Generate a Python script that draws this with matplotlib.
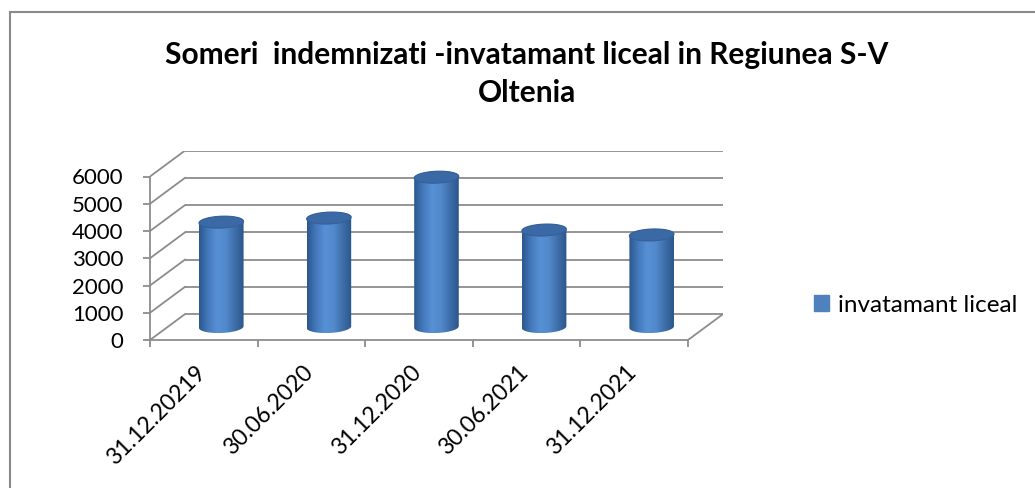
import matplotlib.pyplot as plt
import numpy as np
from matplotlib.patches import Patch, Polygon, Rectangle
from matplotlib.colors import LinearSegmentedColormap

plt.rcParams['font.family'] = ['Lato', 'DejaVu Sans']

# data
title = 'Someri  indemnizati -invatamant liceal in Regiunea S-V\nOltenia'
categories = ['31.12.20219', '30.06.2020', '31.12.2020', '30.06.2021', '31.12.2021']
values = [3850, 4000, 5500, 3560, 3380]
series_name = 'invatamant liceal'
y_ticks = [0, 1000, 2000, 3000, 4000, 5000, 6000]

W, H = 1035, 488
fig = plt.figure(figsize=(W / 100, H / 100), dpi=100)

# fake 3d box: depth offset in data units
n = len(categories)
dep_x = 0.325
dep_y = 950
ymax = y_ticks[-1]
cat_px = 107.6
val_px = 0.02725

ax = fig.add_axes([150 / W, (H - 340) / H, (n + dep_x) * cat_px / W,
                   (ymax + dep_y) * val_px / H])
ax.patch.set_alpha(0)

gc = '#8c8c8c'
for v in y_ticks:
    ax.plot([dep_x, n + dep_x], [v + dep_y] * 2, color=gc, lw=1.3, zorder=1,
            solid_capstyle='butt')
    ax.plot([0, dep_x], [v, v + dep_y], color=gc, lw=1.3, zorder=1)
ax.plot([n, n + dep_x], [0, dep_y], color=gc, lw=1.3, zorder=1)

# cylinders
cmap = LinearSegmentedColormap.from_list(
    'cyl', ['#2b568c', '#4479bb', '#5890d5', '#5289cc', '#3d6ea9', '#2c568a'])
grad = np.linspace(0, 1, 256).reshape(1, -1)
a = 0.205          # half width (category units)
b = 0.03           # shear of ellipse (tilt)
c = 6 / val_px     # half height of ellipse (value units)
phi = np.arctan2(b, a)


def ellipse_pts(cx, cy, t):
    return np.column_stack([cx + a * np.cos(t) + b * np.sin(t), cy + c * np.sin(t)])


for i, v in enumerate(values):
    cx = i + 0.5 + dep_x / 2
    y0 = dep_y / 2
    y1 = v + dep_y / 2
    low = ellipse_pts(cx, y0, np.linspace(np.pi + phi, 2 * np.pi + phi, 60))
    up = ellipse_pts(cx, y1, np.linspace(phi, np.pi + phi, 60))
    body = Polygon(np.vstack([low, up]), closed=True, fc='none', ec='none', zorder=2)
    ax.add_patch(body)
    xl = cx - np.hypot(a, b)
    xr = cx + np.hypot(a, b)
    im = ax.imshow(grad, cmap=cmap, extent=[xl, xr, y0 - c, y1 + c],
                   aspect='auto', zorder=2, interpolation='bicubic')
    im.set_clip_path(body)
    top = Polygon(ellipse_pts(cx, y1, np.linspace(0, 2 * np.pi, 80)), closed=True,
                  fc='#3b69a6', ec='#35609a', lw=0.8, zorder=3)
    ax.add_patch(top)

ax.set_xlim(0, n + dep_x)
ax.set_ylim(0, ymax + dep_y)

# axes
for s in ['top', 'right']:
    ax.spines[s].set_visible(False)
ax.spines['left'].set_bounds(0, ymax)
ax.spines['bottom'].set_bounds(0, n)
for s in ['left', 'bottom']:
    ax.spines[s].set_color(gc)
    ax.spines[s].set_linewidth(1.3)
ax.set_yticks(y_ticks)
ax.set_yticklabels([str(v) for v in y_ticks], fontsize=16)
ax.tick_params(axis='y', length=5, width=1.3, color=gc, pad=14)
ax.set_xticks(np.arange(n + 1))
ax.set_xticklabels([])
ax.tick_params(axis='x', length=5, width=1.3, color=gc)
for i, lab in enumerate(categories):
    ax.annotate(lab, xy=(i + 0.5, 0), xytext=(-1, -21), textcoords='offset points',
                rotation=45, ha='right', va='center', rotation_mode='anchor',
                fontsize=16.5, annotation_clip=False)

fig.text(527 / W, 1 - 74 / H, title, ha='center', va='center', fontsize=21.5,
         fontweight='bold', linespacing=1.45)

fig.legend(handles=[Patch(color='#4f81bd', label=series_name)],
           loc='center left', bbox_to_anchor=(814 / W, 1 - 305 / H), frameon=False,
           fontsize=17.5, handlelength=0.62, handleheight=0.62, handletextpad=0.35,
           borderpad=0, borderaxespad=0)

# chart border
fig.add_artist(Rectangle((10 / W, -0.1), 1.2, 1.1 - 12 / H, transform=fig.transFigure,
                         fill=False, ec='#8a8a8a', lw=1.5))

fig.savefig('out.png', dpi=100)
